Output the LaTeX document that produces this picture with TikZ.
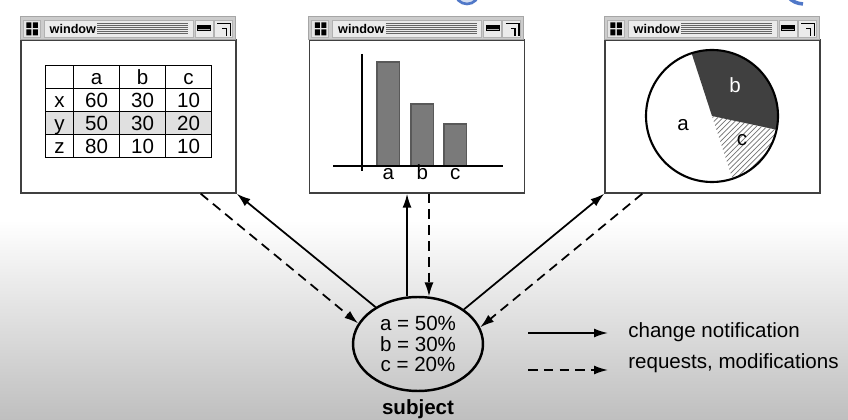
\documentclass[tikz,border=0pt]{standalone}
\usepackage{fontspec}
\setmainfont{Liberation Sans}
\usepackage{tikz}
\usetikzlibrary{arrows.meta,shapes.geometric,patterns,matrix,calc}

\definecolor{logoblue}{RGB}{80,120,200}

\tikzset{
  txt/.style={font=\fontsize{11.7}{11.9}\selectfont},
  winbody/.style={draw=black!75, line width=0.8pt, fill=white, minimum width=4.3cm, minimum height=3.06cm, inner sep=0pt},
  notify/.style={line width=1pt, -{Latex[length=2.8mm,width=1.8mm]}},
  request/.style={notify, dash pattern=on 5.5pt off 3.5pt},
  bar/.style={fill=black!52, draw=black!65, line width=0.6pt},
}

% title bar on top of a window body node
\newcommand{\titlebar}[1]{%
  \begin{scope}[shift={(#1.north west)}]
    \draw[gray!70, fill=black!20] (0,0) rectangle (215,23);
    \draw[gray!60, fill=black!10] (3,2) rectangle (20,19);
    \fill[black] (6,4) rectangle (11,10) (12.5,4) rectangle (17.5,10) (6,11.5) rectangle (11,17) (12.5,11.5) rectangle (17.5,17);
    \draw[gray!60, fill=black!8] (24,2) rectangle (173,19);
    \node[anchor=west, font=\fontsize{7.2}{8}\selectfont\bfseries, inner sep=0pt] (#1t) at (29,10.5) {window};
    \foreach \s in {6,8,...,16} \draw[black!60, line width=0.35pt] (77,\s) -- (168,\s);
    \draw[gray!60, fill=black!8] (175,2) rectangle (193,19);
    \fill[black] (177,8) rectangle (191,14);
    \draw[black!30, line width=0.5pt] (178,9.5) -- (190,9.5);
    \draw[gray!60, fill=black!8] (194,2) rectangle (212,19);
    \draw[black, line width=0.8pt] (197,16) -- (210,16) -- (210,3);
    \draw[black, line width=0.8pt] (202,11) -- (206,11) -- (206,3);
  \end{scope}}

\begin{document}
\begin{tikzpicture}[x=0.02cm, y=0.02cm]
\useasboundingbox (0,0) rectangle (848,419);
\fill[white] (0,0) rectangle (848,419);
\shade[top color=white, bottom color=black!25] (0,0) rectangle (848,199);

% bits of the logo at the top
\draw[logoblue, line width=1.5pt, fill=logoblue!25] (467,427) circle[radius=12];
\draw[logoblue, line width=2pt] (788,422) to[bend right=20] (803,415);

% windows
\node[winbody] (win1) at (128.5,302.5) {};
\node[winbody] (win2) at (417,302.5) {};
\node[winbody] (win3) at (712.5,302.5) {};
\titlebar{win1}
\titlebar{win2}
\titlebar{win3}

% table
\matrix (tab) [matrix of nodes, nodes in empty cells, anchor=north west,
  inner sep=0pt, outer sep=0pt, column sep=-0.7pt, row sep=-0.7pt,
  nodes={draw, line width=0.7pt, txt, minimum width=0.92cm, text height=0.38cm, text depth=0.08cm, inner sep=0pt},
  column 1/.style={nodes={minimum width=0.56cm}},
  row 3/.style={nodes={fill=black!12}}] at (45,354) {
    & a  & b  & c  \\
  x & 60 & 30 & 10 \\
  y & 50 & 30 & 20 \\
  z & 80 & 10 & 10 \\
};

% bar chart
\foreach \x/\h/\n in {377/357/a, 411/315/b, 444/295/c} {
  \draw[bar] (\x,253) rectangle (\x+22.5,\h);
  \node[txt, anchor=base] (bar\n) at (\x+11.25,239) {\n};
}
\draw[line width=0.9pt] (362,365) -- (362,248);
\draw[line width=0.9pt] (333,253) -- (503,253);

% pie chart
\coordinate (pc) at (712,303);
\fill[black!75] (pc) -- ++(-12:66) arc[start angle=-12, end angle=108, radius=66] -- cycle;
\fill[pattern=north east lines, pattern color=black!55] (pc) -- ++(-72:66) arc[start angle=-72, end angle=-12, radius=66] -- cycle;
\draw[line width=1.2pt] (pc) circle[radius=66];
\node[txt] (pa) at (683,294) {a};
\node[txt, white] (pb) at (735,334) {b};
\node[txt] (pcl) at (742,279) {c};

% subject
\node[ellipse, draw, line width=1.4pt, minimum width=2.6cm, minimum height=1.88cm, inner sep=0pt, align=center, txt] (subj) at (418,75) {a = 50\%\\ b = 30\%\\ c = 20\%};
\node[font=\fontsize{11.7}{11.9}\selectfont\bfseries, anchor=base, inner sep=0pt] (subjlbl) at (418,5) {subject};

% connectors
\draw[notify] (subj.139) -- (win1.south east);
\draw[request] ($(win1.south east)+(-36,0)$) -- (subj.161);
\draw[notify] (subj.103) -- (subj.103 |- win2.south);
\draw[request] (subj.77 |- win2.south) -- (subj.77);
\draw[notify] (subj.37) -- (win3.south west);
\draw[request] ($(win3.south west)+(38,0)$) -- (subj.15);

% legend
\coordinate (n1) at (528,86);
\coordinate (n2) at (608,86);
\draw[notify] (n1) -- (n2);
\node[txt, anchor=base west, inner sep=0pt] (ntext) at (628,81) {change notification};
\coordinate (r1) at (528,49);
\coordinate (r2) at (608,49);
\draw[request] (r1) -- (r2);
\node[txt, anchor=base west, inner sep=0pt] (rtext) at (628,51) {requests, modifications};
\end{tikzpicture}
\end{document}
